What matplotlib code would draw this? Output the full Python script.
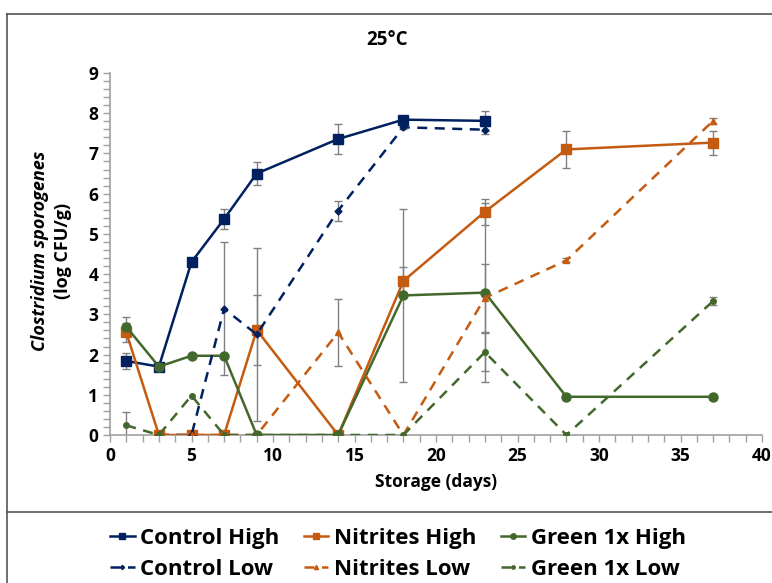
import numpy as np
import matplotlib
matplotlib.use("Agg")
from matplotlib import pyplot as plt
from matplotlib.ticker import MultipleLocator
from matplotlib.lines import Line2D

plt.rcParams['font.family'] = ['Open Sans', 'DejaVu Sans']

# Control
ch_days = [1, 3, 5, 7, 9, 14, 18, 23]
ch = [1.84, 1.70, 4.30, 5.37, 6.50, 7.36, 7.84, 7.81]
ch_err = [0.21, 0, 0, 0.25, 0.28, 0.37, 0.05, 0.25]
cl_days = [3, 5, 7, 9, 14, 18, 23]
cl = [0, 0, 3.14, 2.50, 5.58, 7.65, 7.59]
cl_err = [0, 0, 1.65, 2.15, 0.25, 0.05, 0.10]

# Nitrites
nh_days = [1, 3, 5, 7, 9, 14, 18, 23, 28, 37]
nh = [2.55, 0, 0, 0, 2.61, 0, 3.83, 5.55, 7.10, 7.27]
nh_err = [0.23, 0, 0, 0, 0.88, 0, 0.35, 0.32, 0.45, 0.30]
nl_days = [3, 5, 7, 9, 14, 18, 23, 28, 37]
nl = [0, 0, 0, 0, 2.55, 0, 3.41, 4.34, 7.81]
nl_err = [0, 0, 0, 0, 0.84, 0, 0.85, 0.05, 0.08]

# Green 1x
gh_days = [1, 3, 5, 7, 9, 14, 18, 23, 28, 37]
gh = [2.69, 1.70, 1.97, 1.97, 0, 0, 3.47, 3.54, 0.95, 0.95]
gh_err = [0.24, 0, 0, 0, 0, 0, 2.15, 2.22, 0, 0]
gl_days = [1, 3, 5, 7, 9, 14, 18, 23, 28, 37]
gl = [0.24, 0, 0.98, 0, 0, 0, 0, 2.06, 0, 3.33]
gl_err = [0.32, 0, 0, 0, 0, 0, 0, 0.47, 0, 0.10]

NAVY = '#002060'
ORANGE = '#C55A11'
GREEN = '#43682B'
GREY = '#808080'

fig = plt.figure(figsize=(7.72, 5.83), dpi=100)
ax = fig.add_axes([110/772, 1-435/583, 652/772, 362/583])

def draw(days, vals, errs, color, ls, marker, ms, label):
    d = np.array(days); v = np.array(vals); e = np.array(errs)
    m = e > 0
    ax.errorbar(d[m], v[m], yerr=e[m], fmt='none', ecolor=GREY,
                elinewidth=1, capsize=3, capthick=1, zorder=2)
    line, = ax.plot(d, v, color=color, ls=ls, lw=1.8, marker=marker, ms=ms,
                    label=label, zorder=3)
    if ls == '--':
        line.set_dashes((4, 3))
    return line

h_ch = draw(ch_days, ch, ch_err, NAVY, '-', 's', 6.5, 'Control High')
h_nh = draw(nh_days, nh, nh_err, ORANGE, '-', 's', 6.5, 'Nitrites High')
h_gh = draw(gh_days, gh, gh_err, GREEN, '-', 'o', 6.5, 'Green 1x High')
h_cl = draw(cl_days, cl, cl_err, NAVY, '--', 'D', 3.5, 'Control Low')
h_nl = draw(nl_days, nl, nl_err, ORANGE, '--', '^', 5, 'Nitrites Low')
h_gl = draw(gl_days, gl, gl_err, GREEN, '--', 'o', 4, 'Green 1x Low')

ax.set_xlim(0, 40)
ax.set_ylim(0, 9)
ax.xaxis.set_major_locator(MultipleLocator(5))
ax.xaxis.set_minor_locator(MultipleLocator(1))
ax.yaxis.set_major_locator(MultipleLocator(1))
ax.yaxis.set_minor_locator(MultipleLocator(0.2))
for s in ['top', 'right']:
    ax.spines[s].set_visible(False)
for s in ['left', 'bottom']:
    ax.spines[s].set_color('#A0A0A0')
    ax.spines[s].set_linewidth(1.2)
ax.tick_params(which='both', direction='out', color='#A0A0A0', length=5, width=1)
ax.tick_params(labelsize=12.5)
for lab in ax.get_xticklabels() + ax.get_yticklabels():
    lab.set_fontweight('bold')

ax.set_xlabel('Storage (days)', fontsize=12.5, fontweight='bold', labelpad=6)
fig.text(387/772, 1-40/583, '25°C', ha='center', va='center', fontsize=13.5, fontweight='bold')
fig.text(40/772, 1-251/583, 'Clostridium sporogenes', rotation=90, style='italic',
         ha='center', va='center', fontsize=13, fontweight='bold')
fig.text(63/772, 1-251/583, '(log CFU/g)', rotation=90,
         ha='center', va='center', fontsize=13, fontweight='bold')

# frame around chart and legend separator
fig.add_artist(Line2D([7/772, 7/772], [0, 1-14/583], color='#555555', lw=1.2))
fig.add_artist(Line2D([7/772, 1], [1-14/583, 1-14/583], color='#555555', lw=1.2))
fig.add_artist(Line2D([7/772, 1], [1-512/583, 1-512/583], color='#555555', lw=1.2))

handles = [h_ch, h_cl, h_nh, h_nl, h_gh, h_gl]
labels = [h.get_label() for h in handles]
leg = fig.legend(handles, labels, loc='center', bbox_to_anchor=(398/772, 1-554/583),
                 ncol=3, frameon=False, handlelength=1.1, handletextpad=0.25,
                 columnspacing=1.1, labelspacing=0.45,
                 prop={'size': 16, 'weight': 'bold'})
for h in leg.legend_handles:
    h.set_markersize(h.get_markersize() * 0.6)

fig.savefig('out.png', dpi=100)
